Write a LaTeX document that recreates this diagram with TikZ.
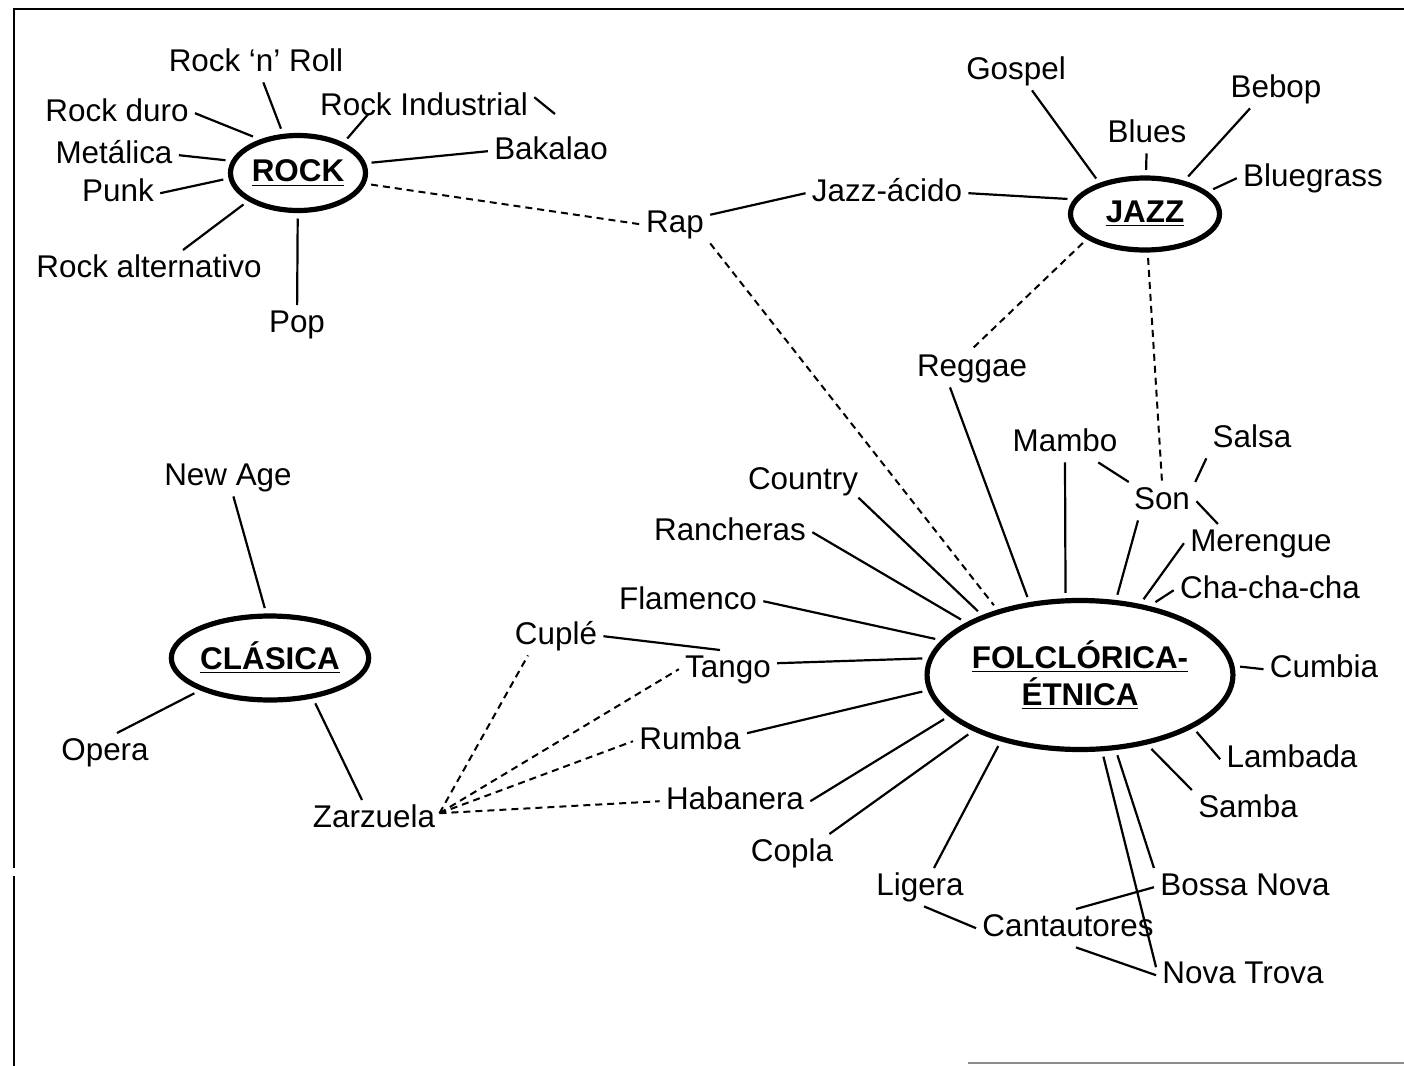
\documentclass[tikz,border=0pt]{standalone}
\usepackage{fontspec}
\setmainfont{Liberation Sans}
\usetikzlibrary{shapes.geometric}

\begin{document}
\begin{tikzpicture}[x=0.5pt, y=-0.5pt]
\tikzset{
    mygenre/.style={ellipse, draw=black, line width=2.6pt, inner sep=0pt, outer sep=4pt, align=center, font=\fontsize{15.7}{18.5}\selectfont\bfseries},
    mylabel/.style={anchor=base, inner xsep=3pt, inner ysep=2pt, text height=11.3pt, text depth=3.5pt, font=\fontsize{15.7}{18.5}\selectfont},
    myline/.style={line width=1.1pt},
    mydash/.style={line width=1pt, dash pattern=on 3.5pt off 2.5pt}
}
\useasboundingbox (0,0) rectangle (1404,1066);

% frame
\draw[line width=1pt] (14,1066) -- (14,876) (14,868) -- (14,9) -- (1404,9);
\draw[line width=1pt, black!45] (968,1063) -- (1404,1063);

% the four families
\node[mygenre, minimum width=67.5pt, minimum height=37.5pt] (rock) at (298,173) {\underline{ROCK}};
\node[mygenre, minimum width=74.5pt, minimum height=36pt] (jazz) at (1145,214) {\underline{JAZZ}};
\node[mygenre, minimum width=95pt, minimum height=42pt] (clasica) at (270,658) {\underline{CLÁSICA}};
\node[mygenre, minimum width=131pt, minimum height=74.5pt] (folk) at (1080,675) {\underline{FOLCLÓRICA-}\\\underline{ÉTNICA}};

% rock
\node[mylabel] (rnr) at (256,71) {Rock ‘n’ Roll};
\node[mylabel] (rduro) at (117,121) {Rock duro};
\node[mylabel] (rind) at (424,115) {Rock Industrial};
\node[mylabel] (bakalao) at (551,159) {Bakalao};
\node[mylabel] (metalica) at (114,163) {Metálica};
\node[mylabel] (punk) at (118,201) {Punk};
\node[mylabel] (ralt) at (149,277) {Rock alternativo};
\node[mylabel] (pop) at (297,332) {Pop};
\node[mylabel] (rap) at (675,232) {Rap};

% jazz
\node[mylabel] (gospel) at (1016,79) {Gospel};
\node[mylabel] (blues) at (1147,142) {Blues};
\node[mylabel] (bebop) at (1276,97) {Bebop};
\node[mylabel] (bluegrass) at (1313,186) {Bluegrass};
\node[mylabel] (jazzacido) at (887,201) {Jazz-ácido};
\node[mylabel] (reggae) at (972,376) {Reggae};

% folclorica
\node[mylabel] (mambo) at (1065,451) {Mambo};
\node[mylabel] (salsa) at (1252,447) {Salsa};
\node[mylabel] (son) at (1162,509) {Son};
\node[mylabel] (merengue) at (1261,551) {Merengue};
\node[mylabel] (chacha) at (1270,598) {Cha-cha-cha};
\node[mylabel] (cumbia) at (1324,677) {Cumbia};
\node[mylabel] (lambada) at (1292,767) {Lambada};
\node[mylabel] (samba) at (1248,817) {Samba};
\node[mylabel] (bossa) at (1245,895) {Bossa Nova};
\node[mylabel] (novatrova) at (1243,983) {Nova Trova};
\node[mylabel] (cantautores) at (1068,936) {Cantautores};
\node[mylabel] (ligera) at (920,895) {Ligera};
\node[mylabel] (copla) at (792,861) {Copla};
\node[mylabel] (habanera) at (735,809) {Habanera};
\node[mylabel] (rumba) at (690,749) {Rumba};
\node[mylabel] (tango) at (728,677) {Tango};
\node[mylabel] (flamenco) at (688,609) {Flamenco};
\node[mylabel] (rancheras) at (730,540) {Rancheras};
\node[mylabel] (country) at (803,489) {Country};
\node[mylabel] (cuple) at (556,644) {Cuplé};

% clasica
\node[mylabel] (newage) at (228,485) {New Age};
\node[mylabel] (opera) at (105,760) {Opera};
\node[mylabel] (zarzuela) at (374,827) {Zarzuela};

% links around rock
\draw[myline] (rnr) -- (rock.111);
\draw[myline] (rduro.east) -- (rock.141);
\draw[myline] ([xshift=-28pt,yshift=6pt]rind.south) -- (rock.35);
\draw[myline] ([yshift=5pt]rind.east) -- ([xshift=2pt,yshift=9pt]bakalao.north);
\draw[myline] (bakalao.west) -- (rock.8);
\draw[myline] (metalica.east) -- (rock.170);
\draw[myline] (punk.east) -- (rock.185);
\draw[myline] ([xshift=17pt]ralt.north) -- (rock.210);
\draw[myline] (pop) -- (rock);
\draw[mydash] (rock.-9) -- (rap.west);

% links around jazz
\draw[myline] (rap.15) -- (jazzacido.west);
\draw[myline] (jazzacido.east) -- (jazz.169);
\draw[myline] ([xshift=8pt]gospel.south) -- (jazz.144);
\draw[myline] (blues) -- (jazz);
\draw[myline] ([xshift=-13pt]bebop.south) -- (jazz.41);
\draw[myline] (bluegrass.west) -- (jazz.20);
\draw[mydash] (jazz.205) -- (reggae.north);
\draw[mydash] (jazz.-86) -- (son.north);
\draw[mydash] (rap.south east) -- (folk.141);

% links around folclorica
\draw[myline] ([xshift=-11pt]reggae.south) -- (folk.124);
\draw[myline] (mambo.south) -- (folk.100);
\draw[myline] (mambo.-30) -- (son.150);
\draw[myline] (son.30) -- (salsa.south west);
\draw[myline] (son.east) -- ([xshift=17pt]merengue.north west);
\draw[myline] ([xshift=-12pt]son.south) -- (folk.65);
\draw[myline] (merengue.west) -- (folk.50);
\draw[myline] (chacha.west) -- (folk.44);
\draw[myline] (cumbia.west) -- (folk.3);
\draw[myline] (lambada.west) -- (folk.-26);
\draw[myline] (samba.north west) -- (folk.-46);
\draw[myline] (bossa.north west) -- (folk.-65);
\draw[myline] ([yshift=4pt]novatrova.west) -- (folk.-74);
\draw[myline] ([xshift=4pt]cantautores.north) -- (bossa.west);
\draw[myline] ([xshift=4pt]cantautores.south) -- (novatrova.west);
\draw[myline] ([xshift=2pt]ligera.south) -- (cantautores.west);
\draw[myline] ([xshift=7pt]ligera.north) -- (folk.221);
\draw[myline] ([xshift=-5pt]copla.north east) -- (folk.208);
\draw[myline] (habanera.east) -- (folk.198);
\draw[myline] ([yshift=4pt]rumba.east) -- (folk.186);
\draw[myline] ([yshift=3pt]tango.east) -- (folk.174);
\draw[myline] (flamenco.east) -- (folk.166);
\draw[myline] (rancheras.east) -- (folk.155);
\draw[myline] ([xshift=-3pt]country.-15) -- (folk.148);
\draw[myline] (cuple.east) -- ([xshift=-4pt]tango.north);

% links around clasica
\draw[myline] (newage) -- (clasica.96);
\draw[myline] ([xshift=6pt]opera.north) -- (clasica.205);
\draw[myline] ([xshift=-6pt]zarzuela.north) -- (clasica.-45);
\coordinate (zfan) at ([xshift=-1pt,yshift=3pt]zarzuela.east);
\draw[mydash] (zfan) -- ([xshift=-14pt]cuple.south);
\draw[mydash] (zfan) -- (tango.west);
\draw[mydash] (zfan) -- (rumba.west);
\draw[mydash] (zfan) -- (habanera.west);

\end{tikzpicture}
\end{document}
